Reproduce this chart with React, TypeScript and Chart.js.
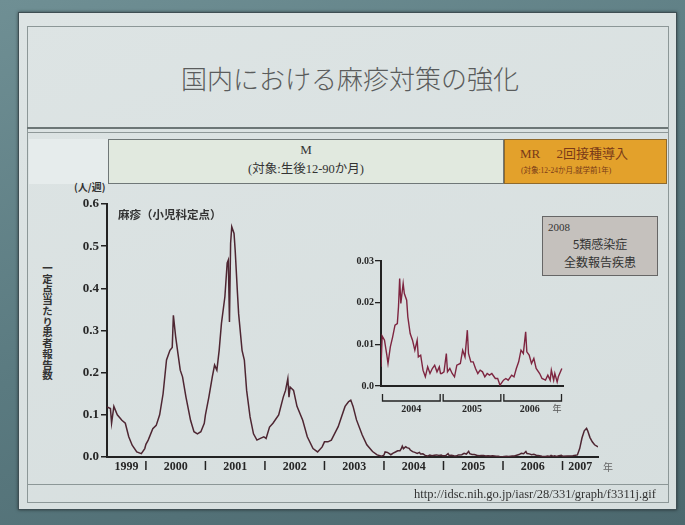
import React, { useEffect, useRef } from "react";
import { Chart, registerables } from "chart.js";

Chart.register(...registerables);

// ---- Main chart data: weekly reports per pediatric sentinel site (week of year, value) ----
const W1999 = [19, 22, 23, 25, 28, 32, 35, 38, 41, 45, 49, 52];
const V1999 = [0.119, 0.115, 0.08, 0.12, 0.1, 0.087, 0.08, 0.048, 0.028, 0.012, 0.008, 0.02];

const W2000 = [1, 3, 7, 10, 13, 16, 19, 22, 24, 25, 27, 29, 31, 33, 36, 40, 43, 46, 49, 52];
const V2000 = [0.03, 0.04, 0.067, 0.075, 0.1, 0.15, 0.23, 0.253, 0.26, 0.336, 0.285, 0.245, 0.206, 0.19, 0.142, 0.087, 0.06, 0.055, 0.06, 0.08];

const W2001 = [1, 4, 7, 9, 11, 13, 15, 18, 20, 21, 22, 23, 24, 26, 27, 29, 30, 33, 35, 37, 40, 43, 46, 49, 52];
const V2001 = [0.1, 0.142, 0.19, 0.218, 0.206, 0.253, 0.317, 0.38, 0.46, 0.467, 0.32, 0.507, 0.546, 0.53, 0.49, 0.388, 0.34, 0.253, 0.23, 0.158, 0.095, 0.055, 0.04, 0.044, 0.048];

const W2002 = [2, 5, 8, 13, 17, 19, 21, 22, 23, 26, 29, 34, 38, 43, 47, 51];
const V2002 = [0.044, 0.071, 0.08, 0.1, 0.142, 0.158, 0.186, 0.142, 0.166, 0.158, 0.12, 0.087, 0.048, 0.02, 0.012, 0.024];

const W2003 = [1, 4, 7, 10, 13, 16, 19, 22, 24, 26, 29, 34, 38, 43, 47, 51];
const V2003 = [0.036, 0.036, 0.04, 0.056, 0.072, 0.096, 0.12, 0.131, 0.135, 0.12, 0.088, 0.052, 0.029, 0.013, 0.005, 0.002];

const W2004 = [1, 2, 4, 6, 7, 9, 11, 13, 15, 16, 17, 18, 20, 21, 23, 24, 26, 28, 30, 32, 33, 35, 37, 39, 41, 43, 45, 47, 49, 51, 52];
const V2004 = [0.0046, 0.012, 0.011, 0.0074, 0.0054, 0.0094, 0.0118, 0.0146, 0.015, 0.019, 0.0258, 0.0198, 0.0246, 0.0222, 0.0206, 0.0166, 0.0126, 0.011, 0.0086, 0.011, 0.007, 0.0074, 0.0038, 0.0022, 0.0046, 0.003, 0.0042, 0.005, 0.0034, 0.0046, 0.003];

const W2005 = [1, 3, 5, 6, 8, 10, 12, 14, 17, 19, 21, 23, 24, 26, 28, 30, 32, 34, 36, 38, 40, 42, 44, 47, 49, 51];
const V2005 = [0.003, 0.0034, 0.0078, 0.0034, 0.0042, 0.003, 0.0022, 0.005, 0.0054, 0.0086, 0.007, 0.0134, 0.0078, 0.0058, 0.0058, 0.0042, 0.003, 0.0038, 0.0034, 0.0022, 0.003, 0.0026, 0.003, 0.0018, 0.0018, 0.0002];

const W2006 = [2, 4, 6, 9, 11, 13, 15, 17, 19, 21, 22, 24, 26, 28, 30, 33, 35, 38, 40, 42, 43, 45, 46, 48, 49, 52];
const V2006 = [0.0014, 0.0018, 0.0014, 0.0026, 0.0022, 0.0042, 0.0058, 0.0086, 0.0078, 0.013, 0.0082, 0.0074, 0.0054, 0.0066, 0.0042, 0.003, 0.0018, 0.0014, 0.0026, 0.0014, 0.0038, 0.0014, 0.003, 0.001, 0.0022, 0.0042];

const W2007 = [1, 10, 14, 16, 18, 20, 22, 23, 25, 27, 29, 32];
const V2007 = [0.002, 0.003, 0.005, 0.02, 0.045, 0.062, 0.068, 0.062, 0.046, 0.036, 0.029, 0.024];

const MAIN_YEARS = ["1999", "2000", "2001", "2002", "2003", "2004", "2005", "2006", "2007"];
const INSET_YEARS = ["2004", "2005", "2006"];
const MAIN_Y_MAX = 0.6;
const MAIN_Y_STEP = 0.1;
const INSET_Y_MAX = 0.03;
const INSET_Y_STEP = 0.01;

const LINE_MAIN = "#4e2632";
const LINE_INSET = "#7e2540";
const AXIS = "#222222";

function toPoints(year: number, weeks: number[], values: number[]) {
  return weeks.map((w, i) => ({ x: year + (w - 1) / 52, y: values[i] }));
}

const MAIN_POINTS = [
  ...toPoints(1999, W1999, V1999),
  ...toPoints(2000, W2000, V2000),
  ...toPoints(2001, W2001, V2001),
  ...toPoints(2002, W2002, V2002),
  ...toPoints(2003, W2003, V2003),
  ...toPoints(2004, W2004, V2004),
  ...toPoints(2005, W2005, V2005),
  ...toPoints(2006, W2006, V2006),
  ...toPoints(2007, W2007, V2007),
];
const INSET_POINTS = [
  ...toPoints(2004, W2004, V2004),
  ...toPoints(2005, W2005, V2005),
  ...toPoints(2006, W2006, V2006),
];

const SERIF = '"Liberation Serif", "Noto Sans CJK JP", serif';
const JP = '"Noto Sans CJK JP", sans-serif';

const mainYearPlugin = {
  id: "mainYears",
  afterDraw(chart: any) {
    const { ctx, chartArea } = chart;
    const xs = chart.scales.x;
    const b = chartArea.bottom;
    ctx.save();
    ctx.strokeStyle = AXIS;
    ctx.lineWidth = 1.5;
    ctx.fillStyle = "#262626";
    ctx.font = 'bold 12px "Liberation Serif"';
    ctx.textAlign = "center";
    ctx.textBaseline = "middle";
    MAIN_YEARS.forEach((label) => {
      const yr = Number(label);
      if (yr > xs.min) {
        const px = xs.getPixelForValue(yr);
        ctx.beginPath();
        ctx.moveTo(px, b + 4);
        ctx.lineTo(px, b + 13);
        ctx.stroke();
      }
      const s = Math.max(yr, xs.min);
      const e = Math.min(yr + 1, xs.max);
      const cx = (xs.getPixelForValue(s) + xs.getPixelForValue(e)) / 2;
      ctx.fillText(label, cx, b + 10);
    });
    ctx.fillStyle = "#666";
    ctx.font = '10px "Noto Sans CJK JP"';
    ctx.fillText("年", xs.right + 10, b + 10);
    ctx.restore();
  },
};

const insetYearPlugin = {
  id: "insetYears",
  afterDraw(chart: any) {
    const { ctx, chartArea } = chart;
    const xs = chart.scales.x;
    const b = chartArea.bottom;
    ctx.save();
    ctx.strokeStyle = AXIS;
    ctx.lineWidth = 1.3;
    ctx.fillStyle = "#262626";
    ctx.font = 'bold 10px "Liberation Serif"';
    ctx.textAlign = "center";
    ctx.textBaseline = "middle";
    INSET_YEARS.forEach((label, i) => {
      const yr = Number(label);
      const x0 = xs.getPixelForValue(yr) + 1.5;
      const x1 = xs.getPixelForValue(yr + 1) - 1.5;
      ctx.beginPath();
      ctx.moveTo(x0, b + 8);
      ctx.lineTo(x0, b + 15);
      ctx.lineTo(x1, b + 15);
      ctx.lineTo(x1, b + 8);
      ctx.stroke();
      const shift = i === INSET_YEARS.length - 1 ? -3 : 0;
      ctx.fillText(label, (x0 + x1) / 2 + shift, b + 23);
    });
    ctx.fillStyle = "#555";
    ctx.font = '9px "Noto Sans CJK JP"';
    ctx.fillText("年", xs.right - 6, b + 23);
    ctx.restore();
  },
};

export default function App() {
  const mainRef = useRef<HTMLCanvasElement>(null);
  const insetRef = useRef<HTMLCanvasElement>(null);

  useEffect(() => {
    const main = new Chart(mainRef.current as HTMLCanvasElement, {
      type: "line",
      data: {
        datasets: [
          {
            data: MAIN_POINTS,
            borderColor: LINE_MAIN,
            borderWidth: 1.5,
            pointRadius: 0,
            tension: 0,
            fill: false,
          },
        ],
      },
      options: {
        animation: false,
        responsive: false,
        events: [],
        layout: { padding: { top: 19, right: 42, bottom: 0, left: 0 } },
        plugins: { legend: { display: false }, tooltip: { enabled: false } },
        scales: {
          x: {
            type: "linear",
            min: MAIN_POINTS[0].x,
            max: MAIN_POINTS[MAIN_POINTS.length - 1].x,
            grid: { display: false },
            ticks: { display: false },
            border: { display: true, color: AXIS, width: 2 },
            afterFit(s: any) {
              s.height = 28;
            },
          },
          y: {
            min: 0,
            max: MAIN_Y_MAX,
            ticks: {
              stepSize: MAIN_Y_STEP,
              callback: (v: any) => Number(v).toFixed(1),
              color: "#262626",
              font: { family: '"Liberation Serif"', size: 13, weight: "bold" },
              padding: 2,
            },
            grid: { display: true, drawOnChartArea: false, drawTicks: true, tickLength: 6, color: AXIS, lineWidth: 1.5 },
            border: { display: true, color: AXIS, width: 2 },
            afterFit(s: any) {
              s.width = 67;
            },
          },
        },
      },
      plugins: [mainYearPlugin],
    } as any);

    const inset = new Chart(insetRef.current as HTMLCanvasElement, {
      type: "line",
      data: {
        datasets: [
          {
            data: INSET_POINTS,
            borderColor: LINE_INSET,
            borderWidth: 1.4,
            pointRadius: 0,
            tension: 0,
            fill: false,
          },
        ],
      },
      options: {
        animation: false,
        responsive: false,
        events: [],
        layout: { padding: { top: 11, right: 17, bottom: 0, left: 0 } },
        plugins: { legend: { display: false }, tooltip: { enabled: false } },
        scales: {
          x: {
            type: "linear",
            min: Number(INSET_YEARS[0]),
            max: Number(INSET_YEARS[INSET_YEARS.length - 1]) + 1,
            grid: { display: false },
            ticks: { display: false },
            border: { display: true, color: AXIS, width: 2 },
            afterFit(s: any) {
              s.height = 34;
            },
          },
          y: {
            min: 0,
            max: INSET_Y_MAX,
            ticks: {
              stepSize: INSET_Y_STEP,
              callback: (v: any) => (Number(v) === 0 ? "0.0" : Number(v).toFixed(2)),
              color: "#262626",
              font: { family: '"Liberation Serif"', size: 10, weight: "bold" },
              padding: 1,
            },
            grid: { display: true, drawOnChartArea: false, drawTicks: true, tickLength: 6, color: AXIS, lineWidth: 1.3 },
            border: { display: true, color: AXIS, width: 2 },
            afterFit(s: any) {
              s.width = 51;
            },
          },
        },
      },
      plugins: [insetYearPlugin],
    } as any);

    return () => {
      main.destroy();
      inset.destroy();
    };
  }, []);

  const abs = (o: any) => ({ position: "absolute" as const, ...o });

  return (
    <div
      style={{
        position: "fixed",
        left: 0,
        top: 0,
        width: 685,
        height: 525,
        overflow: "hidden",
        background: "linear-gradient(160deg, #6f8f94 0%, #5a7a80 50%, #4c686e 100%)",
        fontFamily: JP,
      }}
    >
      {/* slide */}
      <div style={abs({ left: 18, top: 12, width: 657, height: 496, background: "linear-gradient(160deg,#dde4e4,#d6dede)", border: "1px solid #3e4e53", boxShadow: "0 0 3px rgba(0,0,0,0.5)" })} />
      <div style={abs({ left: 27, top: 26, width: 640, height: 475, border: "1px solid #8c9797" })} />
      {/* title */}
      <div style={abs({ left: 0, top: 63, width: 700, textAlign: "center", fontSize: 26, lineHeight: "30px", color: "#5a5c5c", fontWeight: 300, fontFamily: JP })}>
        国内における麻疹対策の強化
      </div>
      {/* separator */}
      <div style={abs({ left: 27, top: 127, width: 641, height: 3, borderTop: "2px solid #6c7676", borderBottom: "1px solid #8e9898" })} />
      {/* banner */}
      <div style={abs({ left: 29, top: 139, width: 79, height: 45, background: "#e6ecec" })} />
      <div style={abs({ left: 108, top: 139, width: 396, height: 45, background: "#e1e9df", border: "1px solid #6f7777", boxSizing: "border-box" })} />
      <div style={abs({ left: 108, top: 142, width: 396, textAlign: "center", fontSize: 13, lineHeight: "16px", color: "#333", fontFamily: SERIF })}>M</div>
      <div style={abs({ left: 108, top: 161, width: 396, textAlign: "center", fontSize: 12.5, lineHeight: "16px", color: "#333", fontFamily: SERIF })}>(対象:生後12-90か月)</div>
      <div style={abs({ left: 504, top: 139, width: 163, height: 45, background: "#e3a12b", border: "1px solid #8f6a2c", boxSizing: "border-box" })} />
      <div style={abs({ left: 520, top: 146, width: 145, fontSize: 13, lineHeight: "16px", color: "#7a3a18", fontFamily: SERIF, whiteSpace: "nowrap" })}>MR　 2回接種導入</div>
      <div style={abs({ left: 521, top: 166, width: 145, fontSize: 7.5, lineHeight: "10px", color: "#7a3a18", fontFamily: SERIF, whiteSpace: "nowrap" })}>(対象:12-24か月,就学前1年)</div>
      {/* axis labels */}
      <div style={abs({ left: 41, top: 263, writingMode: "vertical-rl", fontSize: 10.5, lineHeight: "12px", color: "#333", fontWeight: 700, letterSpacing: 0.2 })}>
        一定点当たり患者報告数
      </div>
      <div style={abs({ left: 74, top: 181, fontSize: 10, lineHeight: "12px", color: "#333", fontWeight: 700, whiteSpace: "nowrap" })}>(人/週)</div>
      {/* charts */}
      <canvas ref={mainRef} width={600} height={300} style={abs({ left: 40, top: 185 })} />
      <canvas ref={insetRef} width={250} height={170} style={abs({ left: 330, top: 250 })} />
      <div style={abs({ left: 118, top: 207, fontSize: 11.5, lineHeight: "14px", color: "#333", fontWeight: 700, whiteSpace: "nowrap" })}>麻疹（小児科定点）</div>
      {/* note box */}
      <div style={abs({ left: 542, top: 216, width: 116, height: 60, background: "#c5c1bd", border: "1.5px solid #666", boxSizing: "border-box" })} />
      <div style={abs({ left: 548, top: 221, fontSize: 11, lineHeight: "13px", color: "#333", fontFamily: SERIF })}>2008</div>
      <div style={abs({ left: 542, top: 236, width: 116, textAlign: "center", fontSize: 12, lineHeight: "16px", color: "#333", fontFamily: JP })}>5類感染症</div>
      <div style={abs({ left: 542, top: 254, width: 116, textAlign: "center", fontSize: 12, lineHeight: "16px", color: "#333", fontFamily: JP })}>全数報告疾患</div>
      {/* footer */}
      <div style={abs({ left: 28, top: 484, width: 640, height: 0, borderTop: "1px solid #8c9797" })} />
      <div style={abs({ left: 300, top: 487, width: 356, textAlign: "right", fontSize: 12.5, lineHeight: "14px", color: "#333", fontFamily: SERIF, whiteSpace: "nowrap" })}>
        http://idsc.nih.go.jp/iasr/28/331/graph/f3311j.gif
      </div>
    </div>
  );
}
